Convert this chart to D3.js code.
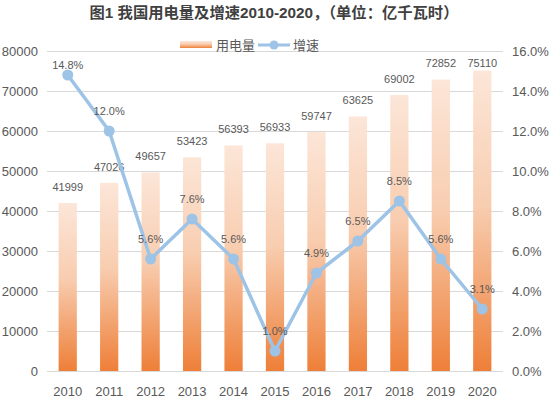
<!DOCTYPE html>
<html><head><meta charset="utf-8">
<script src="https://cdn.jsdelivr.net/npm/d3@7"></script>
<style>
html,body{margin:0;padding:0;background:#fff;}
svg{display:block;font-family:"Liberation Sans","Noto Sans CJK SC",sans-serif;}
</style></head>
<body><svg id="c" width="550" height="398"></svg>
<script>
const years = ["2010","2011","2012","2013","2014","2015","2016","2017","2018","2019","2020"];
const usage = [41999,47026,49657,53423,56393,56933,59747,63625,69002,72852,75110];
const growth = [14.8,12.0,5.6,7.6,5.6,1.0,4.9,6.5,8.5,5.6,3.1];
const leftTicks = [0,10000,20000,30000,40000,50000,60000,70000,80000];
const rightTicks = [0,2,4,6,8,10,12,14,16];
const titleText = "图1 我国用电量及增速2010-2020，（单位：亿千瓦时）";
const legendLabels = ["用电量","增速"];

const svg = d3.select("#c");
const m = {l:47, r:503, t:51, b:371};
const x = d3.scaleBand().domain(years).range([m.l, m.r]).paddingInner(0.56).paddingOuter(0.28);
const yL = d3.scaleLinear().domain([0,80000]).range([m.b, m.t]);
const yR = d3.scaleLinear().domain([0,16]).range([m.b, m.t]);

const defs = svg.append("defs");
const g = defs.append("linearGradient").attr("id","barGrad").attr("x1",0).attr("y1",0).attr("x2",0).attr("y2",1);
g.append("stop").attr("offset","0%").attr("stop-color","#fce6d8");
g.append("stop").attr("offset","45%").attr("stop-color","#f8cdb0");
g.append("stop").attr("offset","100%").attr("stop-color","#ee7f38");

// title
svg.append("text").attr("x",274).attr("y",18).attr("text-anchor","middle")
  .attr("font-size",15.3).attr("font-weight","bold").attr("fill","#404040").text(titleText);

// grid
svg.append("g").selectAll("line").data(leftTicks).join("line")
  .attr("x1",m.l).attr("x2",m.r).attr("y1",d=>yL(d)+0.5).attr("y2",d=>yL(d)+0.5)
  .attr("stroke","#d9d9d9").attr("stroke-width",1);

// left axis labels
svg.append("g").selectAll("text").data(leftTicks).join("text")
  .attr("x",38).attr("y",d=>yL(d)).attr("dy","0.35em").attr("text-anchor","end")
  .attr("font-size",13).attr("fill","#595959").text(d=>d);
// right axis labels
svg.append("g").selectAll("text").data(rightTicks).join("text")
  .attr("x",512).attr("y",d=>yR(d)).attr("dy","0.35em").attr("text-anchor","start")
  .attr("font-size",13).attr("fill","#595959").text(d=>d.toFixed(1)+"%");
// x labels
svg.append("g").selectAll("text").data(years).join("text")
  .attr("x",d=>x(d)+x.bandwidth()/2).attr("y",396).attr("text-anchor","middle")
  .attr("font-size",13).attr("fill","#595959").text(d=>d);

// bars
svg.append("g").selectAll("rect").data(usage).join("rect")
  .attr("x",(d,i)=>x(years[i])).attr("width",x.bandwidth())
  .attr("y",d=>yL(d)).attr("height",d=>yL(0)-yL(d))
  .attr("fill","url(#barGrad)");

// bar labels
svg.append("g").selectAll("text").data(usage).join("text")
  .attr("x",(d,i)=>x(years[i])+x.bandwidth()/2)
  .attr("y",d=>Math.max(yL(d)-16,63)).attr("dy","0.35em").attr("text-anchor","middle")
  .attr("font-size",11).attr("fill","#595959").text(d=>d);

// line
const cx = (d,i)=>x(years[i])+x.bandwidth()/2;
svg.append("path").datum(growth)
  .attr("d", d3.line().x(cx).y(d=>yR(d)))
  .attr("fill","none").attr("stroke","#9dc3e6").attr("stroke-width",3.5).attr("stroke-linejoin","round");
svg.append("g").selectAll("circle").data(growth).join("circle")
  .attr("cx",cx).attr("cy",d=>yR(d)).attr("r",5.5).attr("fill","#9dc3e6");
svg.append("g").selectAll("text").data(growth).join("text")
  .attr("x",cx).attr("y",d=>Math.max(yR(d)-20,65)).attr("dy","0.35em").attr("text-anchor","middle")
  .attr("font-size",11).attr("fill","#595959").text(d=>d.toFixed(1)+"%");

// legend
const lg = svg.append("g");
lg.append("rect").attr("x",180).attr("y",41).attr("width",32).attr("height",7).attr("fill","url(#barGrad)");
lg.append("text").attr("x",216).attr("y",45).attr("dy","0.35em").attr("font-size",13).attr("fill","#595959").text(legendLabels[0]);
lg.append("line").attr("x1",258).attr("x2",290).attr("y1",45).attr("y2",45).attr("stroke","#9dc3e6").attr("stroke-width",3);
lg.append("circle").attr("cx",274).attr("cy",45).attr("r",4.5).attr("fill","#9dc3e6");
lg.append("text").attr("x",293).attr("y",45).attr("dy","0.35em").attr("font-size",13).attr("fill","#595959").text(legendLabels[1]);
</script></body></html>
